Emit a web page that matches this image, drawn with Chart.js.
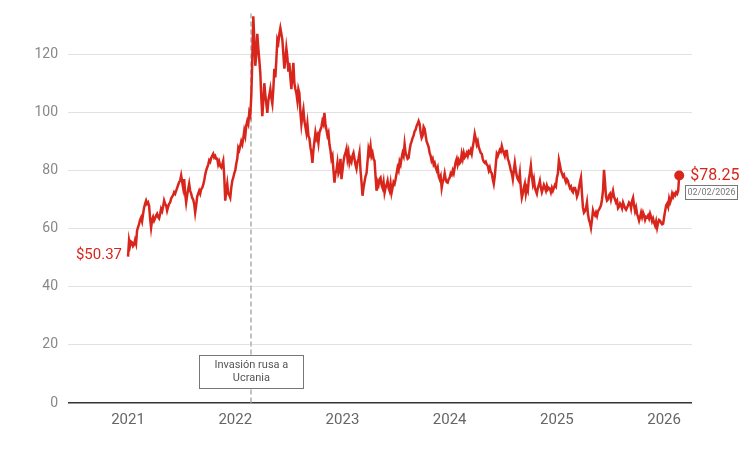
<!DOCTYPE html>
<html lang="es">
<head>
<meta charset="utf-8">
<title>Brent</title>
<script src="https://cdn.jsdelivr.net/npm/chart.js@4/dist/chart.umd.min.js"></script>
<style>
  html, body { margin: 0; padding: 0; background: #fff; }
  #chart { display: block; }
</style>
</head>
<body>
<canvas id="chart" width="754" height="451"></canvas>
<script>
// ------------------------------
// DATA (US$ per barrel, evenly spaced within each year)
// ------------------------------

const years = [2021, 2022, 2023, 2024, 2025, 2026];
const yearSpans = [1, 1, 1, 1, 1, 0.15];

const prices2021 = [
  50.37, 55.9, 54.0, 55.5, 55.2, 54.0, 54.5, 56.0, 54.8, 59.3, 60.5, 61.5, 63.0, 63.8, 62.5, 65.0,
  67.2, 68.5, 69.6, 68.5, 69.0, 67.9, 63.5, 60.3, 63.0, 64.0, 62.7, 63.5, 64.5, 65.1, 64.0, 63.5,
  65.0, 66.8, 66.0, 67.5, 69.6, 68.5, 68.0, 66.2, 67.5, 68.5, 69.0, 70.3, 71.0, 71.5, 72.5, 72.0,
  73.0, 74.0, 75.0, 76.0, 76.5, 78.2, 76.0, 74.0, 77.0, 72.0, 69.0, 71.5, 73.5, 75.4, 73.0, 72.0,
  70.6, 70.0, 68.5, 65.5, 68.0, 71.0, 72.0, 73.0, 72.0, 73.5, 74.0, 75.0, 76.5, 78.5, 80.0, 81.0,
  82.0, 83.5, 83.0, 84.3, 85.0, 85.7, 84.5, 85.0, 84.0, 84.0, 82.0, 83.0, 81.5, 81.0, 82.0, 83.3,
  78.0, 69.6, 73.0, 75.4, 72.0, 71.5, 70.6, 74.0, 76.4, 77.5, 79.0
];

const prices2022 = [
  80.0, 82.3, 84.0, 87.8, 87.0, 88.5, 90.0, 89.0, 91.0, 93.6, 92.0, 95.5, 97.0, 96.0, 100.0, 99.0,
  105.6, 118.0, 133.0, 125.0, 116.0, 120.0, 127.0, 122.0, 118.0, 113.5, 105.0, 98.7, 104.0, 110.0, 106.0, 103.0,
  99.8, 104.0, 106.0, 108.0, 105.0, 103.0, 108.0, 115.0, 112.0, 118.0, 125.0, 124.0, 127.0, 129.0, 127.0, 125.0,
  120.0, 115.0, 118.0, 122.0, 119.0, 114.0, 117.0, 112.0, 108.0, 113.0, 117.0, 110.0, 108.0, 106.6, 104.0, 108.0,
  106.6, 100.0, 96.0, 99.0, 101.0, 97.0, 95.0, 93.0, 96.0, 92.0, 91.0, 88.0, 86.0, 82.6, 87.0, 90.0,
  93.0, 91.0, 92.0, 89.5, 93.0, 94.0, 95.0, 97.0, 96.0, 99.8, 96.0, 94.0, 92.0, 93.0, 89.0, 87.0,
  84.0, 85.0, 80.0, 75.8, 79.0, 80.0, 82.6, 79.0, 80.0, 84.0, 77.0
];

const prices2023 = [
  80.0, 83.0, 85.0, 86.0, 87.4, 84.0, 86.0, 82.6, 84.0, 83.0, 85.0, 86.0, 84.0, 82.0, 80.6, 83.0,
  84.0, 86.0, 80.0, 76.0, 71.3, 74.0, 76.0, 78.0, 79.0, 83.0, 87.4, 86.0, 88.4, 85.0, 86.0, 84.0,
  83.3, 78.0, 73.0, 76.0, 75.0, 77.0, 77.5, 75.0, 74.0, 76.0, 72.3, 74.0, 75.0, 76.4, 74.0, 73.0,
  75.5, 72.3, 74.0, 76.0, 75.4, 77.0, 79.0, 81.0, 80.0, 83.0, 82.0, 84.3, 86.0, 85.0, 89.0, 86.0,
  85.0, 84.0, 84.3, 87.0, 89.0, 90.0, 91.2, 92.0, 93.5, 94.0, 95.3, 96.0, 97.0, 96.0, 93.0, 91.2,
  92.0, 95.0, 94.3, 92.0, 90.0, 89.0, 88.0, 86.0, 85.0, 83.3, 84.0, 82.0, 82.6, 81.0, 80.0, 81.0,
  78.0, 77.0, 78.0, 74.0, 76.0, 77.0, 79.0, 77.0, 76.0, 75.8, 77.0
];

const prices2024 = [
  77.5, 79.0, 78.5, 80.0, 79.0, 81.0, 83.0, 84.0, 82.0, 83.5, 82.5, 83.0, 85.7, 84.0, 86.0, 84.5,
  85.0, 86.0, 85.0, 86.5, 86.0, 87.0, 85.7, 88.0, 90.0, 92.6, 91.0, 89.0, 90.0, 88.0, 87.0, 86.0,
  85.7, 84.0, 83.0, 82.6, 83.0, 82.0, 81.6, 80.0, 81.0, 79.5, 79.0, 77.0, 75.4, 78.0, 82.0, 85.7,
  85.0, 86.0, 87.0, 86.5, 88.4, 87.0, 86.0, 85.0, 86.7, 86.7, 84.0, 83.0, 81.6, 80.0, 79.0, 77.0,
  80.0, 82.6, 80.0, 78.0, 77.0, 76.4, 79.0, 74.0, 70.6, 72.0, 74.0, 75.4, 72.0, 74.0, 73.0, 77.0,
  79.0, 81.6, 78.0, 75.4, 77.0, 74.0, 73.0, 72.0, 74.0, 75.0, 76.4, 74.0, 72.5, 73.7, 75.0, 74.0,
  73.0, 74.7, 73.5, 74.0, 73.7, 72.5, 74.0, 73.0, 74.0, 75.0, 74.5
];

const prices2025 = [
  77.5, 79.0, 83.6, 82.0, 80.0, 79.0, 78.0, 78.5, 77.0, 76.0, 77.0, 76.4, 75.0, 74.0, 74.5, 73.0,
  72.5, 74.0, 74.0, 73.0, 71.0, 72.0, 74.0, 76.0, 77.5, 72.0, 67.2, 65.5, 66.0, 67.0, 69.0, 65.0,
  63.0, 62.0, 60.3, 63.0, 66.2, 65.0, 64.5, 65.5, 64.4, 66.0, 66.5, 67.2, 68.0, 70.0, 73.0, 80.2,
  76.0, 71.0, 69.6, 70.0, 71.5, 72.0, 70.0, 71.5, 73.0, 71.0, 70.0, 69.0, 69.6, 67.0, 67.5, 68.6,
  68.0, 67.0, 69.0, 68.0, 67.0, 66.5, 67.2, 68.0, 69.0, 68.6, 67.0, 69.5, 70.6, 68.0, 66.0, 67.2,
  65.0, 64.0, 62.7, 64.0, 65.5, 64.0, 65.5, 64.5, 63.0, 64.0, 63.8, 64.5, 63.5, 65.1, 64.0, 62.5,
  63.4, 62.0, 61.0, 62.5, 60.3, 62.0, 63.0, 62.7, 62.0, 61.5, 61.7
];

const prices2026 = [
  64.0, 66.0, 68.0, 68.6, 67.5, 70.3, 69.0, 70.0, 72.0, 71.0, 72.0, 71.5, 72.5, 72.0, 73.0, 78.25
];

const yTicks = [0, 20, 40, 60, 80, 100, 120];
const invasionDate = 2022.15;
const invasionLabel = ["Invasión rusa a", "Ucrania"];
const lastDateLabel = "02/02/2026";

// ------------------------------
// HELPERS
// ------------------------------

const RED = "#d8261c";
const FONT = "Roboto, 'Liberation Sans', sans-serif";

function buildPoints() {
  const perYear = [prices2021, prices2022, prices2023, prices2024, prices2025, prices2026];
  const points = [];
  perYear.forEach((values, k) => {
    values.forEach((v, i) => {
      points.push({ x: years[k] + (yearSpans[k] * i) / values.length, y: v });
    });
  });
  return points;
}

function money(v) {
  return `$${v.toFixed(2)}`;
}

// ------------------------------
// ANNOTATIONS
// ------------------------------

const annotations = {
  id: "annotations",
  beforeDatasetsDraw(chart) {
    const { ctx, chartArea, scales } = chart;
    const x = Math.round(scales.x.getPixelForValue(invasionDate));
    ctx.save();
    ctx.strokeStyle = "#c2c2c2";
    ctx.lineWidth = 2;
    ctx.setLineDash([5, 3]);
    ctx.beginPath();
    ctx.moveTo(x, scales.y.getPixelForValue(134));
    ctx.lineTo(x, chartArea.bottom);
    ctx.stroke();
    ctx.restore();
  },
  afterDatasetsDraw(chart) {
    const { ctx, scales } = chart;
    const pts = chart.data.datasets[0].data;
    const first = pts[0];
    const last = pts[pts.length - 1];

    ctx.save();

    // invasion box
    const bx = scales.x.getPixelForValue(invasionDate);
    const boxW = 104;
    const boxH = 33;
    const boxTop = 355.5;
    ctx.fillStyle = "#fff";
    ctx.fillRect(Math.round(bx - boxW / 2) + 0.5, boxTop, boxW, boxH);
    ctx.strokeStyle = "#777";
    ctx.lineWidth = 1;
    ctx.strokeRect(Math.round(bx - boxW / 2) + 0.5, boxTop, boxW, boxH);
    ctx.fillStyle = "#555";
    ctx.font = `11px ${FONT}`;
    ctx.textAlign = "center";
    ctx.textBaseline = "middle";
    ctx.fillText(invasionLabel[0], bx, boxTop + 10);
    ctx.fillText(invasionLabel[1], bx, boxTop + 23);

    // first value
    const fx = scales.x.getPixelForValue(first.x);
    const fy = scales.y.getPixelForValue(first.y);
    ctx.fillStyle = RED;
    ctx.font = `15px ${FONT}`;
    ctx.textAlign = "right";
    ctx.fillText(money(first.y), fx - 6, fy - 1);

    // last value + date box
    const lx = scales.x.getPixelForValue(last.x);
    const ly = scales.y.getPixelForValue(last.y);
    ctx.font = `16px ${FONT}`;
    ctx.textAlign = "left";
    ctx.fillText(money(last.y), lx + 11, ly);

    const dl = Math.round(lx + 6) + 0.5;
    const dt = Math.round(ly + 9) + 0.5;
    ctx.strokeStyle = "#777";
    ctx.strokeRect(dl, dt, 52, 14);
    ctx.fillStyle = "#777";
    ctx.font = `9px ${FONT}`;
    ctx.textAlign = "center";
    ctx.fillText(lastDateLabel, dl + 26, dt + 7.5);

    ctx.restore();
  }
};

// ------------------------------
// CHART
// ------------------------------

function renderChart() {
  const ctx = document.getElementById("chart").getContext("2d");
  const points = buildPoints();

  new Chart(ctx, {
    type: "line",
    data: {
      datasets: [
        {
          data: points,
          borderColor: RED,
          backgroundColor: RED,
          borderWidth: 2.5,
          tension: 0,
          clip: false,
          pointRadius: (c) => (c.dataIndex === points.length - 1 ? 5 : 0),
          pointBorderWidth: 0,
          pointHoverRadius: 0
        }
      ]
    },
    options: {
      responsive: false,
      animation: false,
      layout: { padding: { left: 0, right: 62, top: 5, bottom: 0 } },
      plugins: {
        legend: { display: false },
        tooltip: { enabled: false }
      },
      scales: {
        x: {
          type: "linear",
          min: 2020.44,
          max: 2026.26,
          afterBuildTicks(scale) {
            scale.ticks = years.map((v) => ({ value: v }));
          },
          afterFit(scale) {
            scale.height = 48;
          },
          grid: { display: false, drawTicks: false },
          border: { display: false },
          ticks: {
            color: "#666",
            font: { family: FONT, size: 15 },
            padding: 8,
            callback: (v) => String(v)
          }
        },
        y: {
          min: 0,
          max: 132.3,
          afterBuildTicks(scale) {
            scale.ticks = yTicks.map((v) => ({ value: v }));
          },
          afterFit(scale) {
            scale.width = 68;
          },
          grid: {
            drawTicks: false,
            color: (c) => (c.tick && c.tick.value === 0 ? "#333" : "#e2e2e2"),
            lineWidth: (c) => (c.tick && c.tick.value === 0 ? 1.6 : 1)
          },
          border: { display: false },
          ticks: {
            color: "#888",
            font: { family: FONT, size: 14 },
            padding: 10
          }
        }
      }
    },
    plugins: [annotations]
  });
}

renderChart();
</script>
</body>
</html>
